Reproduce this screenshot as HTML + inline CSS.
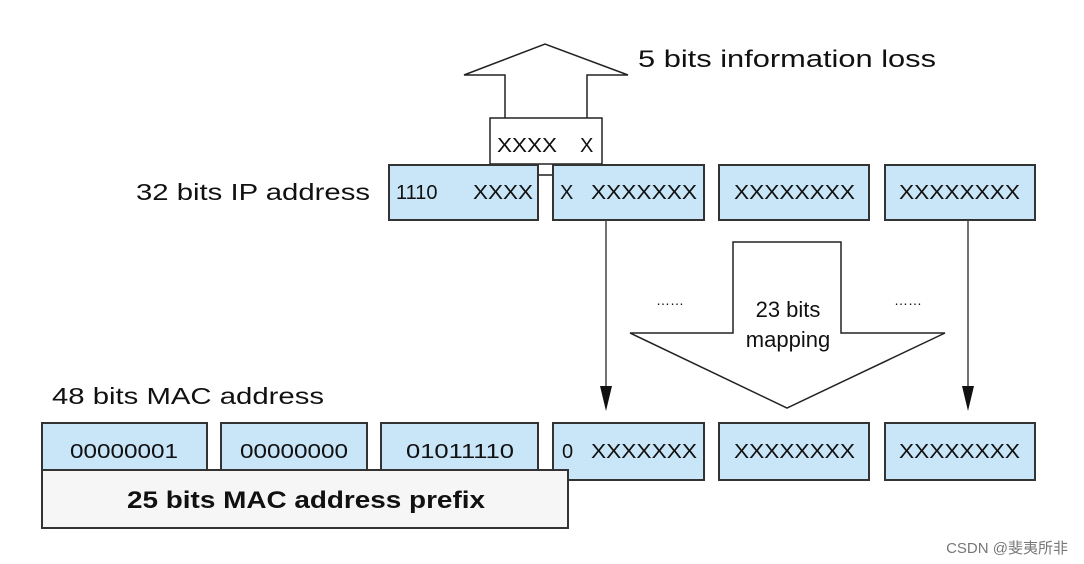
<!DOCTYPE html>
<html><head><meta charset="utf-8"><style>
html,body{margin:0;padding:0;background:#fff;width:1084px;height:564px;overflow:hidden}
svg{display:block}
text{font-family:"Liberation Sans","Noto Sans CJK SC",sans-serif;fill:#111}
</style></head><body>
<svg width="1084" height="564" viewBox="0 0 1084 564">
<!-- up arrow -->
<path d="M505,118 L505,75 L464,75 L545,44 L628,75 L587,75 L587,118" fill="#fff" stroke="#222" stroke-width="1.5"/>
<rect x="490" y="118" width="112" height="46" fill="#fff" stroke="#222" stroke-width="1.5"/>
<text x="497" y="152" font-size="20" textLength="60" lengthAdjust="spacingAndGlyphs">XXXX</text>
<text x="580" y="152" font-size="20">X</text>
<text x="638" y="67" font-size="24" textLength="298" lengthAdjust="spacingAndGlyphs">5 bits information loss</text>
<!-- IP -->
<text x="370" y="200" font-size="23" text-anchor="end" textLength="234" lengthAdjust="spacingAndGlyphs">32 bits IP address</text>
<line x1="538" y1="175" x2="553" y2="175" stroke="#555" stroke-width="2"/>
<g fill="#c9e6f8" stroke="#333" stroke-width="2">
<rect x="389" y="165" width="149" height="55"/>
<rect x="553" y="165" width="151" height="55"/>
<rect x="719" y="165" width="150" height="55"/>
<rect x="885" y="165" width="150" height="55"/>
</g>
<g font-size="20">
<text x="396" y="199">1110</text>
<text x="473" y="199" textLength="60" lengthAdjust="spacingAndGlyphs">XXXX</text>
<text x="560" y="199">X</text>
<text x="591" y="199" textLength="106" lengthAdjust="spacingAndGlyphs">XXXXXXX</text>
<text x="734" y="199" textLength="121" lengthAdjust="spacingAndGlyphs">XXXXXXXX</text>
<text x="899" y="199" textLength="121" lengthAdjust="spacingAndGlyphs">XXXXXXXX</text>
</g>
<!-- connectors -->
<line x1="606" y1="220" x2="606" y2="392" stroke="#444" stroke-width="1.5"/>
<path d="M600,386 L612,386 L606,411 Z" fill="#111"/>
<line x1="968" y1="220" x2="968" y2="392" stroke="#444" stroke-width="1.5"/>
<path d="M962,386 L974,386 L968,411 Z" fill="#111"/>
<path d="M733,242 L841,242 L841,333 L945,333 L787,408 L630,333 L733,333 Z" fill="#fff" stroke="#222" stroke-width="1.5"/>
<text x="788" y="317" font-size="22" text-anchor="middle">23 bits</text>
<text x="788" y="347" font-size="22" text-anchor="middle">mapping</text>
<text x="670" y="305" font-size="14" text-anchor="middle">……</text>
<text x="908" y="305" font-size="14" text-anchor="middle">……</text>
<!-- MAC -->
<text x="52" y="404" font-size="23" textLength="272" lengthAdjust="spacingAndGlyphs">48 bits MAC address</text>
<g fill="#c9e6f8" stroke="#333" stroke-width="2">
<rect x="42" y="423" width="165" height="57"/>
<rect x="221" y="423" width="146" height="57"/>
<rect x="381" y="423" width="157" height="57"/>
<rect x="553" y="423" width="151" height="57"/>
<rect x="719" y="423" width="150" height="57"/>
<rect x="885" y="423" width="150" height="57"/>
</g>
<g font-size="20">
<text x="124" y="458" text-anchor="middle" textLength="108" lengthAdjust="spacingAndGlyphs">00000001</text>
<text x="294" y="458" text-anchor="middle" textLength="108" lengthAdjust="spacingAndGlyphs">00000000</text>
<text x="460" y="458" text-anchor="middle" textLength="108" lengthAdjust="spacingAndGlyphs">01011110</text>
<text x="562" y="458">0</text>
<text x="591" y="458" textLength="106" lengthAdjust="spacingAndGlyphs">XXXXXXX</text>
<text x="734" y="458" textLength="121" lengthAdjust="spacingAndGlyphs">XXXXXXXX</text>
<text x="899" y="458" textLength="121" lengthAdjust="spacingAndGlyphs">XXXXXXXX</text>
</g>
<rect x="42" y="470" width="526" height="58" fill="#f6f6f6" stroke="#333" stroke-width="2"/>
<text x="306" y="508" font-size="24" font-weight="bold" text-anchor="middle" textLength="358" lengthAdjust="spacingAndGlyphs">25 bits MAC address prefix</text>
<text x="1068" y="553" font-size="15" text-anchor="end" style="fill:#777">CSDN @斐夷所非</text>
</svg>
</body></html>
